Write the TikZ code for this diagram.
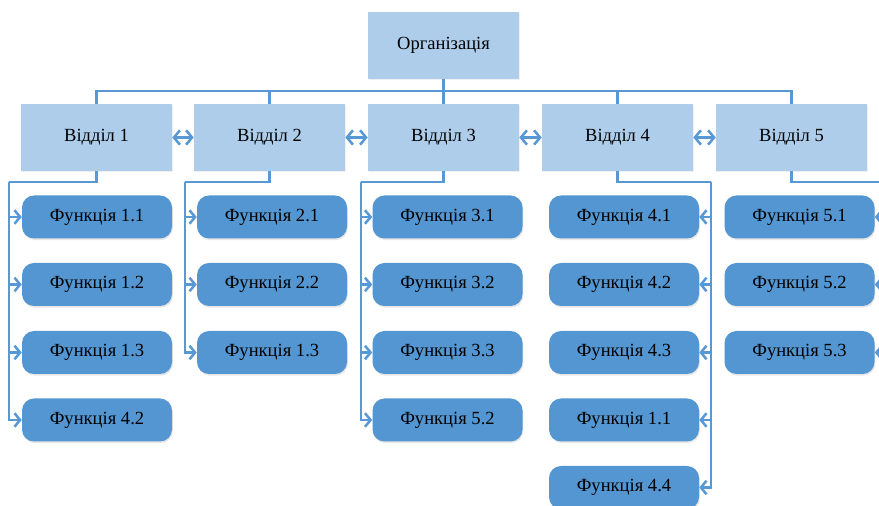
\documentclass[tikz,border=0pt]{standalone}
\usepackage{fontspec}
\setmainfont{Liberation Serif}
\usetikzlibrary{arrows.meta,shadows}
\definecolor{DeptBlue}{RGB}{174,205,235}
\definecolor{FuncBlue}{RGB}{83,150,210}
\definecolor{LineBlue}{RGB}{88,152,212}

\begin{document}
\begin{tikzpicture}[
                        every node/.style={font=\fontsize{13.2}{15}\selectfont},
                        unit/.style={rectangle, fill=DeptBlue, minimum width=3.775cm, minimum height=1.675cm, inner sep=0pt,
                                     drop shadow={opacity=0.12, shadow xshift=0.02cm, shadow yshift=-0.03cm}},
                        func/.style={rectangle, rounded corners=0.3cm, fill=FuncBlue, minimum width=3.75cm, minimum height=1.075cm, inner sep=0pt,
                                     drop shadow={opacity=0.2, shadow xshift=0.02cm, shadow yshift=-0.04cm}},
                        link/.style={line width=1.8pt, LineBlue},
                        peer/.style={{Straight Barb[length=1.5mm,width=3.6mm]}-{Straight Barb[length=1.5mm,width=3.6mm]}, line width=1.8pt, LineBlue},
                        feed/.style={-{Straight Barb[length=1.4mm,width=3.4mm]}, line width=1.8pt, LineBlue}
                    ]
                        \useasboundingbox (0,0) rectangle (21.975,12.65);
                        % top level
                        \node[unit] (org) at (11.0875,11.5125) {Організація};
                        \coordinate (bus) at (11.0875,10.375);
                        % departments
                        \node[unit] (d1) at (2.4125,9.2125) {Відділ 1};
                        \node[unit] (d2) at (6.7375,9.2125) {Відділ 2};
                        \node[unit] (d3) at (11.0875,9.2125) {Відділ 3};
                        \node[unit] (d4) at (15.4375,9.2125) {Відділ 4};
                        \node[unit] (d5) at (19.7875,9.2125) {Відділ 5};
                        % functions
                        \node[func] (f11) at (2.425,7.225) {Функція 1.1};
                        \node[func] (f12) at (2.425,5.5375) {Функція 1.2};
                        \node[func] (f13) at (2.425,3.8375) {Функція 1.3};
                        \node[func] (f14) at (2.425,2.15) {Функція 4.2};
                        \node[func] (f21) at (6.8,7.225) {Функція 2.1};
                        \node[func] (f22) at (6.8,5.5375) {Функція 2.2};
                        \node[func] (f23) at (6.8,3.8375) {Функція 1.3};
                        \node[func] (f31) at (11.1875,7.225) {Функція 3.1};
                        \node[func] (f32) at (11.1875,5.5375) {Функція 3.2};
                        \node[func] (f33) at (11.1875,3.8375) {Функція 3.3};
                        \node[func] (f34) at (11.1875,2.15) {Функція 5.2};
                        \node[func] (f41) at (15.6,7.225) {Функція 4.1};
                        \node[func] (f42) at (15.6,5.5375) {Функція 4.2};
                        \node[func] (f43) at (15.6,3.8375) {Функція 4.3};
                        \node[func] (f44) at (15.6,2.15) {Функція 1.1};
                        \node[func] (f45) at (15.6,0.4625) {Функція 4.4};
                        \node[func] (f51) at (19.9875,7.225) {Функція 5.1};
                        \node[func] (f52) at (19.9875,5.5375) {Функція 5.2};
                        \node[func] (f53) at (19.9875,3.8375) {Функція 5.3};
                        % side rails
                        \coordinate (s1) at (0.225,8.1);
                        \coordinate (s2) at (4.625,8.1);
                        \coordinate (s3) at (9.025,8.1);
                        \coordinate (s4) at (17.775,8.1);
                        \coordinate (s5) at (22.25,8.1);
                        % organisation to departments
                        \draw[link] (org) -- (bus);
                        \foreach \d in {d1,d2,d3,d4,d5}
                            \draw[link] (\d) |- (bus);
                        \draw[peer] (d1) -- (d2);
                        \draw[peer] (d2) -- (d3);
                        \draw[peer] (d3) -- (d4);
                        \draw[peer] (d4) -- (d5);
                        % departments to functions
                        \draw[link] (d1) |- (s1);
                        \draw[link] (d2) |- (s2);
                        \draw[link] (d3) |- (s3);
                        \draw[link] (d4) |- (s4);
                        \draw[link] (d5) |- (s5);
                        \foreach \f in {f11,f12,f13,f14}
                            \draw[feed] (s1) |- (\f);
                        \foreach \f in {f21,f22,f23}
                            \draw[feed] (s2) |- (\f);
                        \foreach \f in {f31,f32,f33,f34}
                            \draw[feed] (s3) |- (\f);
                        \foreach \f in {f41,f42,f43,f44,f45}
                            \draw[feed] (s4) |- (\f);
                        \foreach \f in {f51,f52,f53}
                            \draw[feed] (s5) |- (\f);
                    \end{tikzpicture}
\end{document}
